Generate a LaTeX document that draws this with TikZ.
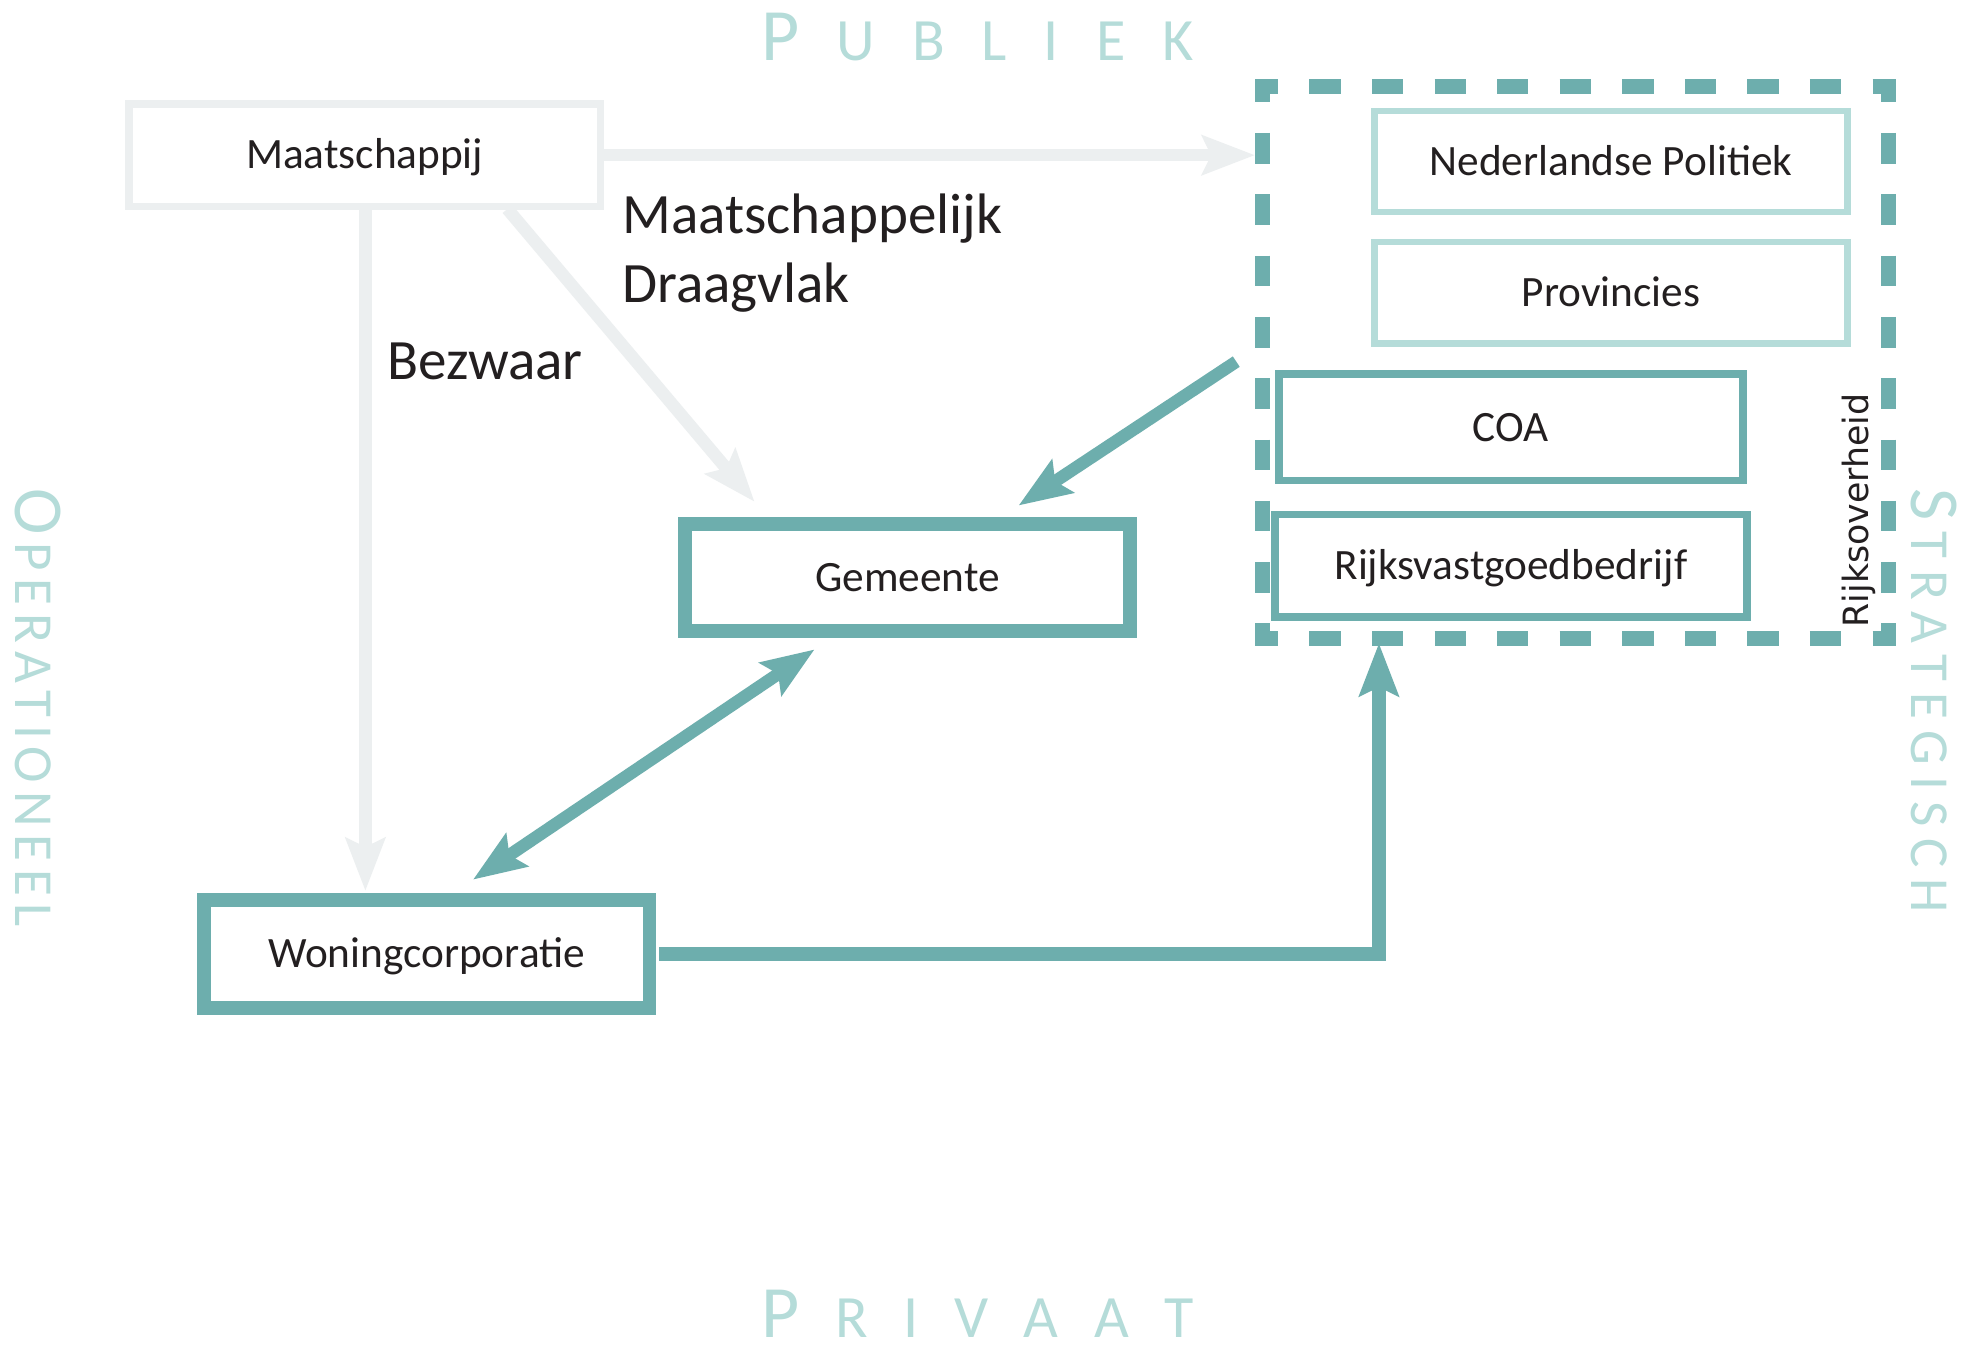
\documentclass[tikz,border=0pt]{standalone}
\usepackage{fontspec}
\setmainfont{Carlito}
\newfontfamily\dvsans{DejaVu Sans}
\usetikzlibrary{arrows.meta,calc}
\definecolor{tealA}{HTML}{6DAEAD}
\definecolor{tealB}{HTML}{B5DCD9}
\definecolor{greyA}{HTML}{ECEFF0}
\definecolor{txt}{HTML}{231F20}
\newcommand\ttlbig{\fontsize{29.5pt}{30pt}\selectfont}
\newcommand\ttlsm{\fontsize{24pt}{25pt}\selectfont}
\newcommand\vbig{\fontsize{28pt}{30pt}\selectfont}
\newcommand\vsm{\fontsize{22pt}{24pt}\selectfont}
\newcommand\hgapA{\kern14.8pt\relax}
\newcommand\hgapB{\kern14.25pt\relax}
\newcommand\vgapA{\kern3.1pt\relax}
\newcommand\vgapB{\kern4.5pt\relax}
\tikzset{
  boxlbl/.style={font=\fontsize{17.3pt}{20pt}\selectfont, text=txt, inner sep=0pt, outer sep=0pt, text height=11pt, text depth=0pt},
  greybox/.style={boxlbl, draw=greyA, line width=3pt},
  ltbox/.style={boxlbl, draw=tealB, line width=2.5pt},
  tlbox/.style={boxlbl, draw=tealA, line width=3pt},
  thickbox/.style={boxlbl, draw=tealA, line width=5.5pt},
  bigtxt/.style={font=\fontsize{22.8pt}{27.5pt}\selectfont, text=txt, inner sep=0pt, anchor=base west},
  ttl/.style={text=tealB, inner sep=0pt, anchor=base west, text depth=0pt},
  dashside/.style={draw=tealA, line width=6pt, line cap=butt},
  headA/.style={>={Stealth[length=21pt,width=15.5pt,inset=3.5pt]}},
  garrow/.style={headA, draw=greyA, line width=5pt, ->, line cap=butt},
  tarrow/.style={headA, draw=tealA, line width=5pt, ->, line cap=butt, line join=miter},
}
\begin{document}
\begin{tikzpicture}[x=0.5pt,y=-0.5pt]
\fill[white] (0,0) rectangle (1568,1083);
\useasboundingbox (0,0) rectangle (1568,1083);

% titles
\node[ttl] (publiek) at (608,48) {\ttlbig P\ttlsm\hgapA U\hgapA B\hgapA L\hgapA I\hgapA E\hgapA K};
\node[ttl] (privaat) at (608,1069) {\ttlbig P\ttlsm\hgapB R\hgapB I\hgapB V\hgapB A\hgapB A\hgapB T};
\node[ttl, rotate=-90] (oper) at (12,390) {\vbig O\vsm\vgapA P\vgapA E\vgapA R\vgapA A\vgapA T\vgapA I\vgapA O\vgapA N\vgapA E\vgapA E\vgapA L};
\node[ttl, rotate=-90] (strat) at (1528,390) {\vbig S\vsm\vgapB T\vgapB R\vgapB A\vgapB T\vgapB E\vgapB G\vgapB I\vgapB S\vgapB C\vgapB H};

% dashed group (Rijksoverheid)
\node[inner sep=0pt, outer sep=0pt, minimum width=250pt, minimum height=220.5pt] (rijk) at (1259,290) {};
\draw[dashside, dash pattern=on 12.5pt off 12.5pt, dash phase=3.25pt]
  ($(rijk.north west)+(-6,0)$) -- ($(rijk.north east)+(6,0)$);
\draw[dashside, dash pattern=on 12.5pt off 12.5pt, dash phase=3.25pt]
  ($(rijk.south west)+(-6,0)$) -- ($(rijk.south east)+(6,0)$);
\draw[dashside, dash pattern=on 12.25pt off 12.25pt, dash phase=6.125pt]
  (rijk.north west) -- (rijk.south west);
\draw[dashside, dash pattern=on 12.25pt off 12.25pt, dash phase=6.125pt]
  (rijk.north east) -- (rijk.south east);
\node[font=\dvsans\fontsize{13.9pt}{16pt}\selectfont, text=txt, rotate=90, anchor=base, inner sep=0pt] (rijklbl) at (1493,408) {Rijksoverheid};

% boxes
\node[greybox, minimum width=188.5pt, minimum height=41pt] (maat) at (291.5,124) {Maatschappij};
\node[ltbox, minimum width=189pt, minimum height=40.5pt] (nlpol) at (1287.5,129) {Nederlandse Politiek};
\node[ltbox, minimum width=189pt, minimum height=40.5pt] (prov) at (1287.5,234) {Provincies};
\node[tlbox, minimum width=185.5pt, minimum height=42.5pt] (coa) at (1207.5,341.5) {COA};
\node[tlbox, minimum width=188.5pt, minimum height=41pt] (rvb) at (1207.5,452) {Rijksvastgoedbedrijf};
\node[thickbox, minimum width=177.75pt, minimum height=43pt] (gem) at (725.25,461.5) {Gemeente};
\node[thickbox, minimum width=178pt, minimum height=43pt] (won) at (341,762.5) {Woningcorporatie};

% labels
\node[bigtxt] (lblmd1) at (497,187) {Maatschappelijk};
\node[bigtxt] (lblmd2) at (497,242) {Draagvlak};
\node[bigtxt] (lblbez) at (309,303) {Bezwaar};

% connectors
\draw[garrow] ($(maat.east)+(3,0)$) -- ($(maat.east -| rijk.west)+(-6,0)$);
\draw[garrow] ($(maat.south)+(0.5,3)$) -- ($(maat.south |- won.north)+(0.5,-7.5)$);
\draw[garrow] ($(maat.south)+(114,2)$) -- ($(gem.north)+(-122.25,-17.5)$);
\draw[tarrow] ($(rijk.west)+(-21,-1)$) -- ($(gem.north)+(88.75,-14.5)$);
\draw[tarrow, <->] ($(won.north)+(37,-16.5)$) -- ($(gem.south)+(-74.25,14.5)$);
\draw[tarrow, line width=5.5pt] ($(won.east)+(8,0)$) -| ($(rijk.south)+(-157,3.5)$);
\end{tikzpicture}
\end{document}
